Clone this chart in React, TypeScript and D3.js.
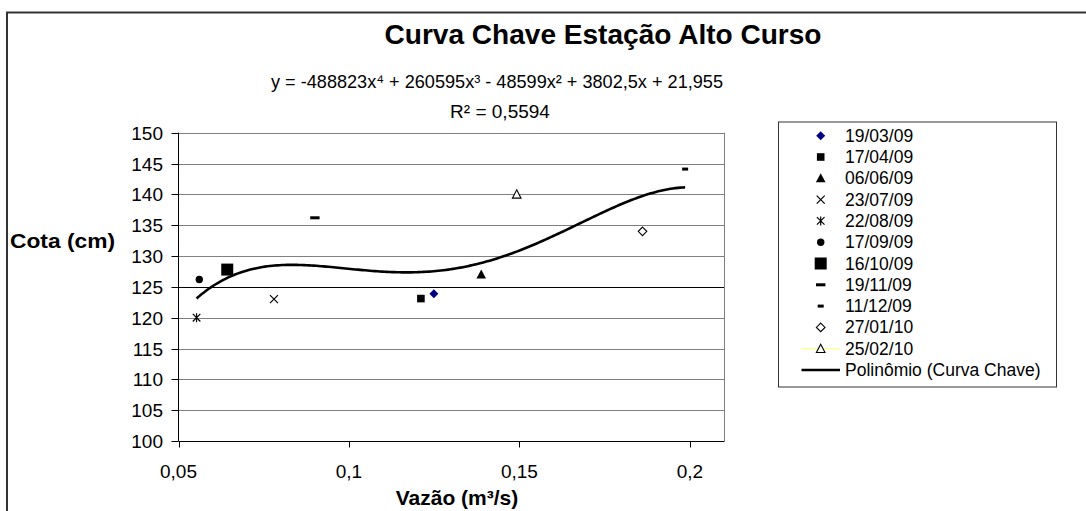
import React from 'react';
import * as d3 from 'd3';

const seriesNames = ['19/03/09', '17/04/09', '06/06/09', '23/07/09', '22/08/09', '17/09/09', '16/10/09', '19/11/09', '11/12/09', '27/01/10', '25/02/10'];
const vazao = [0.1249, 0.1211, 0.1388, 0.078, 0.0553, 0.0561, 0.0643, 0.09, 0.1986, 0.1861, 0.1492];
const cota = [123.9, 123.1, 127.0, 123.0, 120.0, 126.2, 127.8, 136.2, 144.1, 134.0, 140.0];
const markerTypes = ['diamond', 'square', 'triangle', 'x', 'star', 'circle', 'bigsquare', 'dash', 'shortdash', 'opendiamond', 'opentriangle'];
// trendline coefficients as shown in the chart: c0 + c1 x + c2 x^2 + c3 x^3 + c4 x^4
const trendCoefficients = [21.955, 3802.5, -48599, 260595, -488823];
const xTicks = [0.05, 0.1, 0.15, 0.2];
const yTicks = [100, 105, 110, 115, 120, 125, 130, 135, 140, 145, 150];
const xTickLabels = ['0,05', '0,1', '0,15', '0,2'];

const FONT = '"Liberation Sans", Arial, sans-serif';

function Marker({ type, cx, cy }: { type: string; cx: number; cy: number }) {
  switch (type) {
    case 'diamond':
      return <path d={`M${cx},${cy - 4.5}L${cx + 4.5},${cy}L${cx},${cy + 4.5}L${cx - 4.5},${cy}Z`} fill="#000080" />;
    case 'square':
      return <rect x={cx - 3.8} y={cy - 3.8} width={7.6} height={7.6} fill="#000" />;
    case 'triangle':
      return <path d={`M${cx},${cy - 5}L${cx + 4.8},${cy + 4}L${cx - 4.8},${cy + 4}Z`} fill="#000" />;
    case 'x':
      return <path d={`M${cx - 4},${cy - 4}L${cx + 4},${cy + 4}M${cx + 4},${cy - 4}L${cx - 4},${cy + 4}`} stroke="#000" strokeWidth={1.2} />;
    case 'star':
      return <path d={`M${cx - 3.8},${cy - 3.8}L${cx + 3.8},${cy + 3.8}M${cx + 3.8},${cy - 3.8}L${cx - 3.8},${cy + 3.8}M${cx},${cy - 4.5}L${cx},${cy + 4.5}`} stroke="#000" strokeWidth={1.2} />;
    case 'circle':
      return <circle cx={cx} cy={cy} r={3.7} fill="#000" />;
    case 'bigsquare':
      return <rect x={cx - 6} y={cy - 6} width={12} height={12} fill="#000" />;
    case 'dash':
      return <rect x={cx - 4.7} y={cy - 1.5} width={9.4} height={3} fill="#000" />;
    case 'shortdash':
      return <rect x={cx - 3} y={cy - 1.5} width={6} height={3} fill="#000" />;
    case 'opendiamond':
      return <path d={`M${cx},${cy - 4.3}L${cx + 4.3},${cy}L${cx},${cy + 4.3}L${cx - 4.3},${cy}Z`} fill="#fff" stroke="#000" strokeWidth={1.1} />;
    case 'opentriangle':
      return <path d={`M${cx},${cy - 4.5}L${cx + 4.3},${cy + 3.8}L${cx - 4.3},${cy + 3.8}Z`} fill="#fff" stroke="#000" strokeWidth={1.1} />;
    default:
      return null;
  }
}

export default function App() {
  const width = 1086;
  const height = 511;
  const x = d3.scaleLinear().domain([0.05, 0.21]).range([178.5, 724]);
  const y = d3.scaleLinear().domain([100, 150]).range([441, 132.7]);

  const poly = (v: number) => trendCoefficients.reduce((s, c, i) => s + c * Math.pow(v, i), 0);
  const [xmin, xmax] = d3.extent(vazao) as [number, number];
  const trendX = d3.range(0, 201).map((i) => xmin + ((xmax - xmin) * i) / 200);
  const line = d3.line<number>().x((v) => x(v)).y((v) => y(poly(v)));

  const legendX = 778.5;
  const legendY = 122;
  const legendRow0 = 135.7;
  const legendStep = 21.3;

  return (
    <svg width={width} height={height} style={{ position: 'absolute', left: 0, top: 0, fontFamily: FONT }}>
      <rect x={0} y={0} width={width} height={height} fill="#fff" />
      {/* chart border */}
      <rect x={7} y={12.5} width={1200} height={600} fill="none" stroke="#333" strokeWidth={2} />

      {/* gridlines */}
      {yTicks.filter((t) => t !== 100).map((t) => (
        <line key={t} x1={x(0.05)} x2={x(0.21)} y1={Math.round(y(t)) + 0.5} y2={Math.round(y(t)) + 0.5} stroke={t === 125 ? '#000' : '#808080'} strokeWidth={1} />
      ))}
      {/* plot area right border */}
      <line x1={724.5} x2={724.5} y1={y(150)} y2={y(100)} stroke="#808080" strokeWidth={1} />

      {/* axes */}
      <line x1={178.5} x2={178.5} y1={y(150)} y2={y(100)} stroke="#000" strokeWidth={1} />
      <line x1={178.5} x2={724.5} y1={Math.round(y(100)) + 0.5} y2={Math.round(y(100)) + 0.5} stroke="#000" strokeWidth={1} />
      {yTicks.map((t) => (
        <g key={t}>
          <line x1={171.5} x2={178.5} y1={Math.round(y(t)) + 0.5} y2={Math.round(y(t)) + 0.5} stroke="#000" />
          <text x={163} y={y(t) + 7} textAnchor="end" fontSize={19} fill="#000">{t}</text>
        </g>
      ))}
      {xTicks.map((t, i) => (
        <g key={t}>
          <line x1={Math.round(x(t)) + 0.5} x2={Math.round(x(t)) + 0.5} y1={441} y2={447.5} stroke="#000" />
          <text x={x(t)} y={478} textAnchor="middle" fontSize={19} fill="#000">{xTickLabels[i]}</text>
        </g>
      ))}

      {/* trendline */}
      <path d={line(trendX) || ''} fill="none" stroke="#000" strokeWidth={2.6} />

      {/* data points */}
      {vazao.map((v, i) => (
        <Marker key={i} type={markerTypes[i]} cx={x(v)} cy={y(cota[i])} />
      ))}

      {/* titles */}
      <text x={603} y={44} textAnchor="middle" fontSize={27} fontWeight="bold" fill="#000" textLength={437} lengthAdjust="spacingAndGlyphs">Curva Chave Estação Alto Curso</text>
      <text x={497} y={88} textAnchor="middle" fontSize={19} fill="#000" textLength={452} lengthAdjust="spacingAndGlyphs">
        y = -488823x⁴ + 260595x³ - 48599x² + 3802,5x + 21,955
      </text>
      <text x={500} y={118} textAnchor="middle" fontSize={19} fill="#000">R² = 0,5594</text>
      <text x={10} y={248} fontSize={21} fontWeight="bold" fill="#000" textLength={105} lengthAdjust="spacingAndGlyphs">Cota (cm)</text>
      <text x={457} y={505} textAnchor="middle" fontSize={21} fontWeight="bold" fill="#000">Vazão (m³/s)</text>

      {/* legend */}
      <rect x={legendX} y={legendY} width={278} height={265} fill="#fff" stroke="#333" strokeWidth={1} />
      {seriesNames.map((n, i) => {
        const cy = legendRow0 + i * legendStep;
        return (
          <g key={n}>
            {i === 10 && <line x1={801.5} x2={840} y1={cy} y2={cy} stroke="#ffff66" strokeWidth={1} />}
            <Marker type={markerTypes[i]} cx={820.7} cy={cy} />
            <text x={845} y={cy + 6} fontSize={17.5} fill="#000">{n}</text>
          </g>
        );
      })}
      <line x1={801.5} x2={840} y1={legendRow0 + 11 * legendStep} y2={legendRow0 + 11 * legendStep} stroke="#000" strokeWidth={2.6} />
      <text x={845} y={legendRow0 + 11 * legendStep + 6} fontSize={17.5} fill="#000">Polinômio (Curva Chave)</text>
    </svg>
  );
}
